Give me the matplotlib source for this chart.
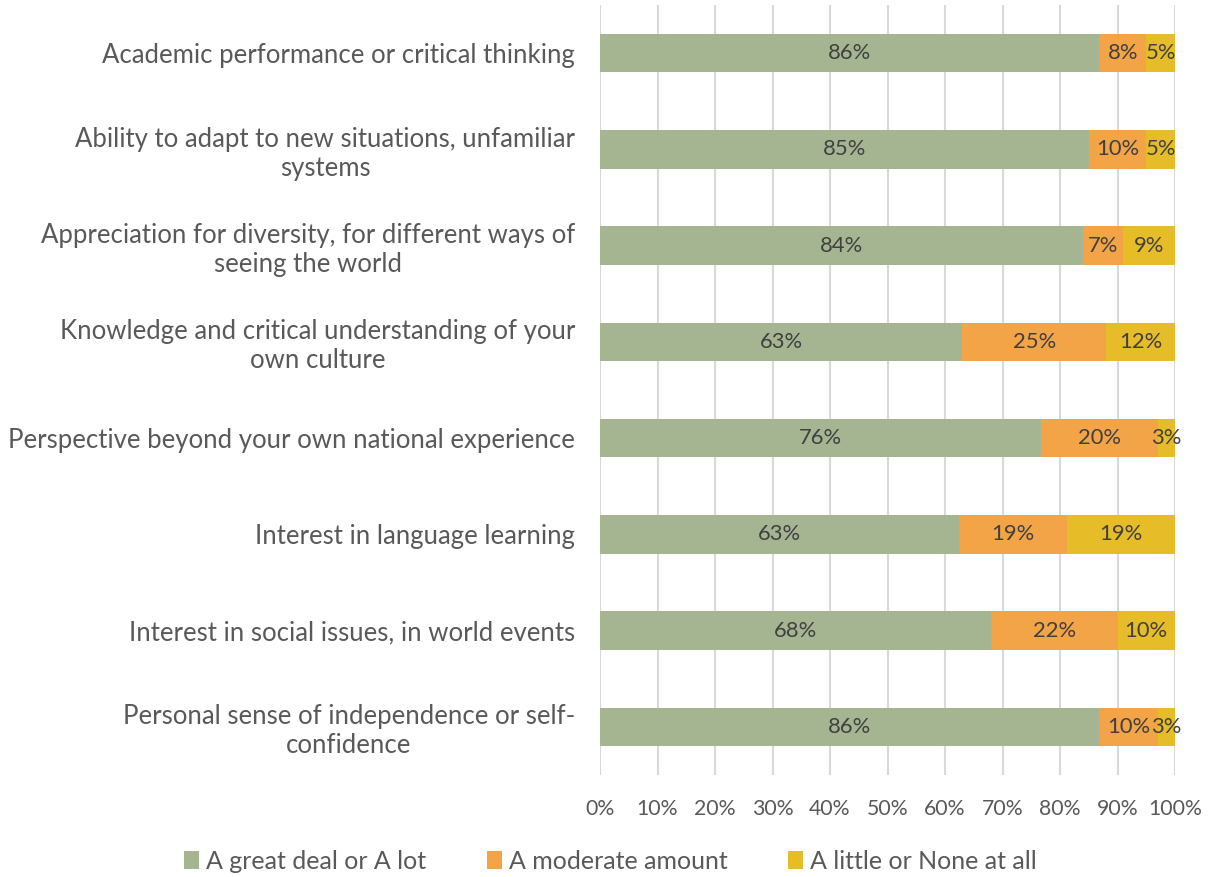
import matplotlib

matplotlib.use("Agg")
import matplotlib.pyplot as plt
import numpy as np

categories = [
    "Academic performance or critical thinking",
    "Ability to adapt to new situations, unfamiliar\nsystems",
    "Appreciation for diversity, for different ways of\nseeing the world",
    "Knowledge and critical understanding of your\nown culture",
    "Perspective beyond your own national experience",
    "Interest in language learning",
    "Interest in social issues, in world events",
    "Personal sense of independence or self-\nconfidence",
]
great = [86, 85, 84, 63, 76, 63, 68, 86]
moderate = [8, 10, 7, 25, 20, 19, 22, 10]
little = [5, 5, 9, 12, 3, 19, 10, 3]
series_names = ["A great deal or A lot", "A moderate amount", "A little or None at all"]
xticks = [0, 10, 20, 30, 40, 50, 60, 70, 80, 90, 100]

colors = ["#A5B592", "#F3A447", "#E7BC29"]
text_color = "#404040"
axis_color = "#595959"

plt.rcParams["font.family"] = ["Lato", "DejaVu Sans"]

raw = np.array([great, moderate, little], dtype=float)
share = raw / raw.sum(axis=0) * 100  # 100% stacked

fig = plt.figure(figsize=(12.09, 8.77), dpi=100)
ax = fig.add_axes([600 / 1209, 1 - 775 / 877, 575 / 1209, 770 / 877])

y = np.arange(len(categories))
left = np.zeros(len(categories))
for vals, pct, name, color in zip(raw, share, series_names, colors):
    bars = ax.barh(y, pct, left=left, height=0.4, color=color, label=name, zorder=3)
    for bar, v in zip(bars, vals):
        ax.text(bar.get_x() + bar.get_width() / 2, bar.get_y() + bar.get_height() / 2,
                f"{v:.0f}%", ha="center", va="center", fontsize=15.8, color=text_color, zorder=4)
    left += pct

ax.set_xlim(0, 100)
ax.set_ylim(len(categories) - 0.5, -0.5)
ax.set_yticks(y)
ax.set_yticklabels(categories, fontsize=18.5, color=axis_color)
for lbl in ax.get_yticklabels():
    lbl.set_multialignment("center")
ax.set_xticks(xticks)
ax.set_xticklabels([f"{t}%" for t in xticks], fontsize=15.3, color=axis_color)
ax.tick_params(axis="both", length=0)
ax.tick_params(axis="x", pad=17)
ax.tick_params(axis="y", pad=18)
ax.grid(axis="x", color="#D9D9D9", linewidth=1.5, zorder=0)
for s in ax.spines.values():
    s.set_visible(False)

fig.legend(loc="lower center", bbox_to_anchor=(0.505, -0.021), ncol=3, frameon=False,
           fontsize=18, handlelength=0.6, handleheight=0.7, handletextpad=0.3,
           columnspacing=2.4, labelcolor=axis_color)

fig.savefig("out.png", dpi=100)
